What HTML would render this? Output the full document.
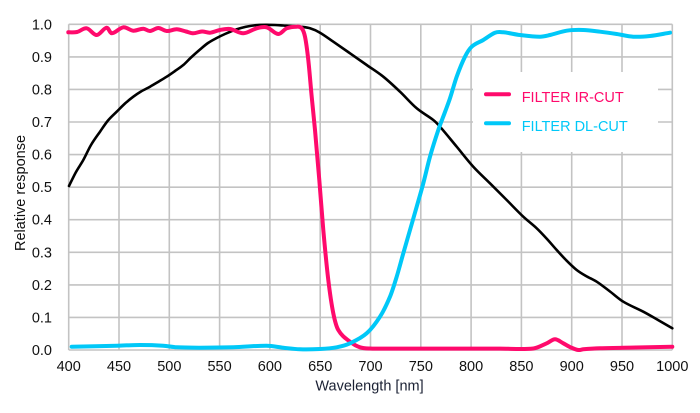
<!DOCTYPE html>
<html>
<head>
<meta charset="utf-8">
<style>
  html, body { margin: 0; padding: 0; background: #ffffff; }
  body { width: 700px; height: 413px; overflow: hidden; }
  svg { display: block; }
  text { font-family: "Liberation Sans", Arial, sans-serif; }
</style>
</head>
<body>
<svg id="chart" width="700" height="413" viewBox="0 0 700 413" xmlns="http://www.w3.org/2000/svg">
  <rect x="0" y="0" width="700" height="413" fill="#ffffff"/>
  <!-- grid -->
  <g stroke="#c3c3c3" stroke-width="1.6" fill="none">
    <line x1="68.7" y1="24.3" x2="68.7" y2="350"/>
    <line x1="119" y1="24.3" x2="119" y2="350"/>
    <line x1="169.3" y1="24.3" x2="169.3" y2="350"/>
    <line x1="219.6" y1="24.3" x2="219.6" y2="350"/>
    <line x1="269.9" y1="24.3" x2="269.9" y2="350"/>
    <line x1="320.2" y1="24.3" x2="320.2" y2="350"/>
    <line x1="370.5" y1="24.3" x2="370.5" y2="350"/>
    <line x1="420.8" y1="24.3" x2="420.8" y2="350"/>
    <line x1="471.1" y1="24.3" x2="471.1" y2="350"/>
    <line x1="521.4" y1="24.3" x2="521.4" y2="350"/>
    <line x1="571.7" y1="24.3" x2="571.7" y2="350"/>
    <line x1="622" y1="24.3" x2="622" y2="350"/>
    <line x1="672.3" y1="24.3" x2="672.3" y2="350"/>
    <line x1="68.7" y1="350" x2="672.3" y2="350"/>
    <line x1="68.7" y1="317.4" x2="672.3" y2="317.4"/>
    <line x1="68.7" y1="284.9" x2="672.3" y2="284.9"/>
    <line x1="68.7" y1="252.3" x2="672.3" y2="252.3"/>
    <line x1="68.7" y1="219.7" x2="672.3" y2="219.7"/>
    <line x1="68.7" y1="187.2" x2="672.3" y2="187.2"/>
    <line x1="68.7" y1="154.6" x2="672.3" y2="154.6"/>
    <line x1="68.7" y1="122" x2="672.3" y2="122"/>
    <line x1="68.7" y1="89.4" x2="672.3" y2="89.4"/>
    <line x1="68.7" y1="56.9" x2="672.3" y2="56.9"/>
    <line x1="68.7" y1="24.3" x2="672.3" y2="24.3"/>
  </g>

  <!-- legend background -->
  <rect x="473" y="72" width="185" height="80" fill="#ffffff"/>

  <!-- black curve -->
  <polyline class="sm" fill="none" stroke="#000000" stroke-width="2.6" stroke-linejoin="round" stroke-linecap="round"
    points="69,186 76,172 83.3,160 91,145 100,131.7 108,120.5 116.7,111.7 125,103.5 133.3,96.7 141,91.5 150,86.7 158,82 166.7,76.7 175,71 183.3,65 191,57.5 200,49.5 208,43 216.7,38 225,34 233.3,30.5 241,28 250,26 258,25 266.7,24.8 275,25 283.3,25.5 292,26 300,26.7 310,28.3 320,32.7 333.3,41.7 350,53.3 366.7,65 383.3,76.7 400,91.7 416.7,108.3 433.3,120 440,126.7 456.7,146.7 473.3,166.7 490,183.3 506.7,200 523.3,216.7 536.7,228.3 547,239 556.7,250 566,260 576.7,270 586,276 596.7,281.7 610,291.5 623.3,301.7 643.3,311.7 658,320 672.3,328.3"/>

  <!-- pink IR-CUT curve -->
  <polyline class="sm" fill="none" stroke="#ff0a6c" stroke-width="4" stroke-linejoin="round" stroke-linecap="round"
    points="68.3,32.3 77,32 86.7,28.3 96.7,35 106.7,27.7 111.7,33.3 123.3,27.3 133.3,30.7 143.3,28.7 150,31 158.3,28 166.7,31 176.7,29.3 186,31.5 193.3,33.3 202,31.5 210,32.7 220,30 230,29 243.3,33.3 256.7,28.3 266.7,27.3 278.3,34 286.7,28.3 296.7,26.7 301.7,28.3 305,36.7 308.3,60 311.7,96.7 315,130 319.3,180 323.3,230 328.3,280 333.3,313.3 338.3,330 350,341.7 360,347.3 370,348.5 400,348.6 450,348.6 500,348.6 533.3,348.5 546.7,343.3 555,339.3 563.3,343.3 571,347.5 578.3,350 583.3,349.3 600,348.3 636,347.5 672.3,346.7"/>

  <!-- cyan DL-CUT curve -->
  <polyline class="sm" fill="none" stroke="#00c8f8" stroke-width="4" stroke-linejoin="round" stroke-linecap="round"
    points="71.7,346.7 95,346.2 116.7,345.7 140,345 163.3,345.7 176.7,347.3 200,347.7 233.3,347.3 266.7,345.7 283.3,347.7 300,349.3 320,349 336.7,347.3 350,343.3 366.7,333.3 380,316.7 390,296.7 396.7,276.7 403.3,253.3 410,230 416.7,206.7 423.3,183.3 430,156.7 438.3,130 445,112 450,98.3 456.7,76.7 465,56.7 471.7,46.7 483.3,40 495,32.7 503.3,32.3 520,35 540,36.7 550,35 566.7,30.7 583.3,30 600,31.7 616.7,34 633.3,36.7 650,36 670,32.7"/>

  <!-- legend -->
  <line x1="486" y1="94.3" x2="509" y2="94.3" stroke="#ff0a6c" stroke-width="4" stroke-linecap="round"/>
  <text x="521.7" y="102" font-size="14.5" fill="#ff0a6c">FILTER IR-CUT</text>
  <line x1="486" y1="123.3" x2="509" y2="123.3" stroke="#00c8f8" stroke-width="4" stroke-linecap="round"/>
  <text x="521.7" y="131" font-size="14.5" fill="#00c8f8">FILTER DL-CUT</text>

  <!-- y tick labels -->
  <g font-size="14.5" fill="#111111" text-anchor="end">
    <text x="52" y="355">0.0</text>
    <text x="52" y="322.4">0.1</text>
    <text x="52" y="289.9">0.2</text>
    <text x="52" y="257.3">0.3</text>
    <text x="52" y="224.7">0.4</text>
    <text x="52" y="192.2">0.5</text>
    <text x="52" y="159.6">0.6</text>
    <text x="52" y="127">0.7</text>
    <text x="52" y="94.4">0.8</text>
    <text x="52" y="61.9">0.9</text>
    <text x="52" y="29.3">1.0</text>
  </g>

  <!-- x tick labels -->
  <g font-size="14.5" fill="#111111" text-anchor="middle">
    <text x="68.7" y="371">400</text>
    <text x="119" y="371">450</text>
    <text x="169.3" y="371">500</text>
    <text x="219.6" y="371">550</text>
    <text x="269.9" y="371">600</text>
    <text x="320.2" y="371">650</text>
    <text x="370.5" y="371">700</text>
    <text x="420.8" y="371">750</text>
    <text x="471.1" y="371">800</text>
    <text x="521.4" y="371">850</text>
    <text x="571.7" y="371">900</text>
    <text x="622" y="371">950</text>
    <text x="672.3" y="371">1000</text>
  </g>

  <!-- axis titles -->
  <text x="369.5" y="390.5" font-size="14.5" fill="#1a2033" text-anchor="middle">Wavelength [nm]</text>
  <text x="0" y="0" font-size="14.5" fill="#111111" text-anchor="middle" transform="translate(25,193) rotate(-90)">Relative response</text>
</svg>
<script>
(function(){
  try {
    var NS = "http://www.w3.org/2000/svg";
    var lines = document.querySelectorAll("polyline.sm");
    for (var i = 0; i < lines.length; i++) {
      var pl = lines[i];
      var raw = pl.getAttribute("points").trim().split(/\s+/);
      var p = [];
      for (var j = 0; j < raw.length; j++) {
        var xy = raw[j].split(",");
        p.push([parseFloat(xy[0]), parseFloat(xy[1])]);
      }
      var n = p.length;
      if (n < 3) continue;
      // slopes (dy/dx) at each point
      var m = [];
      for (var k = 0; k < n; k++) {
        var a = p[k > 0 ? k - 1 : 0], b = p[k < n - 1 ? k + 1 : n - 1];
        var dx = b[0] - a[0];
        m.push(dx !== 0 ? (b[1] - a[1]) / dx : 0);
      }
      var d = "M" + p[0][0] + "," + p[0][1];
      for (var k = 0; k < n - 1; k++) {
        var p1 = p[k], p2 = p[k + 1];
        var h = (p2[0] - p1[0]) / 3;
        var c1x = p1[0] + h, c1y = p1[1] + m[k] * h;
        var c2x = p2[0] - h, c2y = p2[1] - m[k + 1] * h;
        d += " C" + c1x.toFixed(2) + "," + c1y.toFixed(2) + " " + c2x.toFixed(2) + "," + c2y.toFixed(2) + " " + p2[0] + "," + p2[1];
      }
      var path = document.createElementNS(NS, "path");
      path.setAttribute("d", d);
      var attrs = ["fill", "stroke", "stroke-width", "stroke-linejoin", "stroke-linecap"];
      for (var q = 0; q < attrs.length; q++) path.setAttribute(attrs[q], pl.getAttribute(attrs[q]));
      pl.parentNode.replaceChild(path, pl);
    }
  } catch (e) {}
})();
</script>
</body>
</html>
